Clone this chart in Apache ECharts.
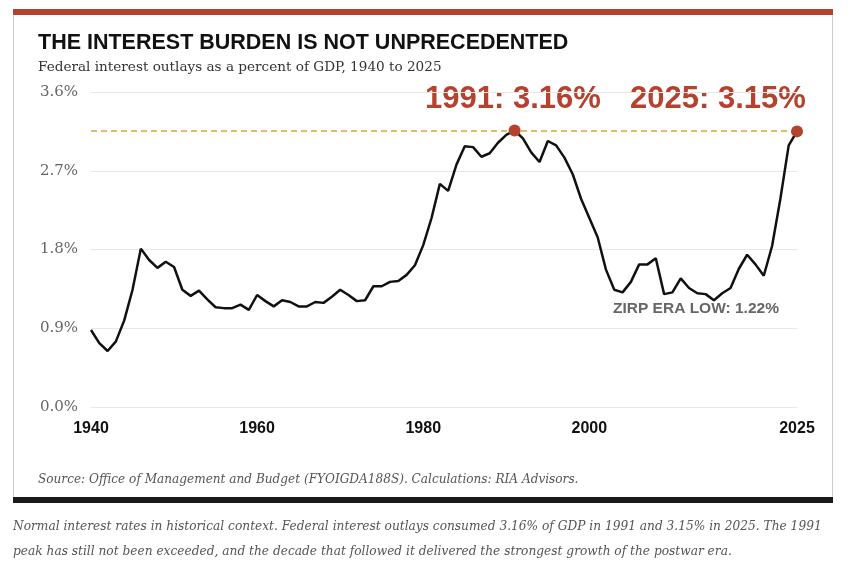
<!DOCTYPE html>
<html><head><meta charset="utf-8">
<script src="https://cdn.jsdelivr.net/npm/echarts@6/dist/echarts.min.js"></script>
<style>html,body{margin:0;background:#fff}#c{width:862px;height:565px}</style>
</head><body><div id="c"></div>
<script>
var years = [];
for (var y = 1940; y <= 2025; y++) years.push(y);
// interest outlays, % of GDP
var outlays = [0.88,0.73,0.64,0.75,0.99,1.34,1.81,1.68,1.59,1.66,
  1.60,1.34,1.27,1.33,1.23,1.14,1.13,1.13,1.17,1.11,
  1.28,1.21,1.15,1.22,1.20,1.15,1.15,1.20,1.19,1.26,
  1.34,1.28,1.21,1.22,1.38,1.38,1.43,1.44,1.51,1.62,
  1.85,2.16,2.55,2.47,2.77,2.98,2.97,2.86,2.90,3.02,
  3.11,3.16,3.07,2.91,2.80,3.04,2.99,2.85,2.66,2.38,
  2.16,1.94,1.57,1.34,1.31,1.43,1.63,1.63,1.70,1.29,
  1.31,1.47,1.36,1.30,1.29,1.22,1.30,1.36,1.58,1.74,
  1.63,1.50,1.84,2.38,2.99,3.15];
var xLabels = [1940, 1960, 1980, 2000, 2025];
var peaks = [[1991, 3.16], [2025, 3.15]];

var data = years.map(function (yr, i) { return [yr, outlays[i]]; });
var chart = echarts.init(document.getElementById('c'));
var serif = '"DejaVu Serif", "Liberation Serif", serif';
var sans = '"Liberation Sans", Arial, sans-serif';
chart.setOption({
  animation: false,
  grid: { left: 91, right: 65, top: 92, bottom: 158 },
  graphic: [
    { type: 'rect', shape: { x: 13.5, y: 9.5, width: 819, height: 491 }, style: { fill: 'none', stroke: '#ccc', lineWidth: 1 } },
    { type: 'rect', shape: { x: 13, y: 9, width: 820, height: 6 }, style: { fill: '#b5412f' } },
    { type: 'rect', shape: { x: 13, y: 497, width: 820, height: 6 }, style: { fill: '#1a1a1a' } },
    { type: 'text', left: 38, top: 32, style: { text: 'THE INTEREST BURDEN IS NOT UNPRECEDENTED', font: 'bold 21.5px ' + sans, fill: '#111' } },
    { type: 'text', left: 38, top: 60, style: { text: 'Federal interest outlays as a percent of GDP, 1940 to 2025', font: '13.6px ' + serif, fill: '#333' } },
    { type: 'text', left: 38, top: 474, style: { text: 'Source: Office of Management and Budget (FYOIGDA188S). Calculations: RIA Advisors.', font: 'italic 12.1px ' + serif, fill: '#555' } },
    { type: 'text', left: 13, top: 514, style: { text: 'Normal interest rates in historical context. Federal interest outlays consumed 3.16% of GDP in 1991 and 3.15% in 2025. The 1991\npeak has still not been exceeded, and the decade that followed it delivered the strongest growth of the postwar era.', font: 'italic 12.2px ' + serif, fill: '#555', lineHeight: 25 } },
    { type: 'text', left: 613, top: 301, style: { text: 'ZIRP ERA LOW: 1.22%', font: 'bold 15.5px ' + sans, fill: '#666' } },
    { type: 'text', left: 425, top: 84, style: { text: '1991: 3.16%', font: 'bold 31px ' + sans, fill: '#b5412f' } },
    { type: 'text', left: 630, top: 84, style: { text: '2025: 3.15%', font: 'bold 31px ' + sans, fill: '#b5412f' } }
  ],
  xAxis: {
    type: 'value', min: 1940, max: 2025,
    axisLine: { show: false }, axisTick: { show: false }, splitLine: { show: false },
    axisLabel: { customValues: xLabels, formatter: function (v) { return String(v); }, margin: 14, color: '#111', fontWeight: 'bold', fontSize: 16, fontFamily: sans }
  },
  yAxis: {
    type: 'value', min: 0, max: 3.6, interval: 0.9,
    axisLine: { show: false }, axisTick: { show: false },
    splitLine: { lineStyle: { color: '#e8e8e8' } },
    axisLabel: { formatter: function (v) { return v.toFixed(1) + '%'; }, margin: 13, color: '#666', fontSize: 15, fontFamily: serif }
  },
  series: [
    { type: 'line', data: data, showSymbol: false, lineStyle: { color: '#111', width: 2.5 },
      markLine: { silent: true, symbol: 'none', label: { show: false },
        lineStyle: { color: '#d4a830', type: [6, 4], width: 1.5 }, data: [{ yAxis: 3.16 }] } },
    { type: 'scatter', data: peaks, symbolSize: 12, itemStyle: { color: '#b5412f', opacity: 1 }, z: 5 }
  ]
});
</script></body></html>
